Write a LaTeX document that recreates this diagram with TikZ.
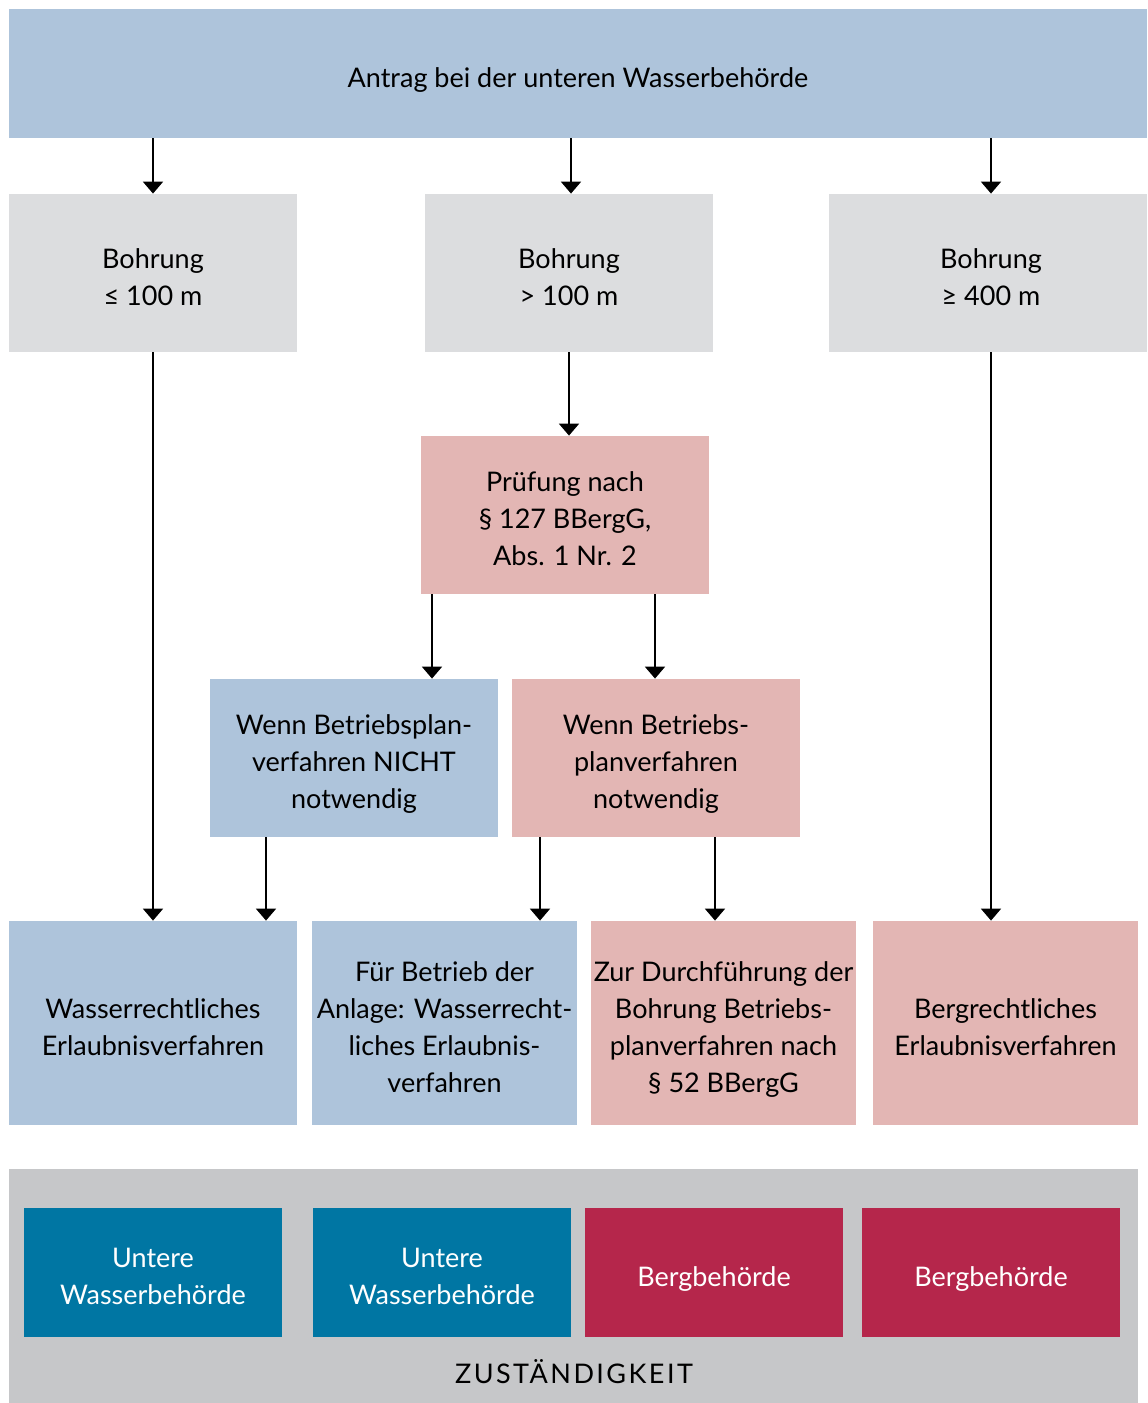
\documentclass[tikz,border=0pt]{standalone}
\usepackage{fontspec}
\setmainfont{Lato}
\usetikzlibrary{arrows.meta,calc}
\definecolor{lblue}{HTML}{AEC4DB}
\definecolor{lgray}{HTML}{DCDDDF}
\definecolor{lpink}{HTML}{E3B6B4}
\definecolor{pgray}{HTML}{C6C7C9}
\definecolor{teal}{HTML}{0076A3}
\definecolor{crim}{HTML}{B5264B}
\newcommand\txtA{\rule{0pt}{17pt}}
\newcommand\txtZ{\rule[-3.5pt]{0pt}{3.5pt}}
\tikzset{
  box/.style={draw=none, align=center, inner sep=0pt, font=\fontsize{13.5}{18.5}\selectfont, text=black,
    execute at begin node={\txtA}, execute at end node={\txtZ}},
  arr/.style={line width=1pt, -{Triangle[width=10pt,length=6pt]}},
}
\begin{document}
\begin{tikzpicture}[x=0.5pt,y=-0.5pt]
\useasboundingbox (0,0) rectangle (1147,1403);
% top
\node[box, fill=lblue, minimum width=569pt, minimum height=64.5pt] (top) at (578,73.5) {Antrag bei der unteren Wasserbehörde};
% gray row
\node[box, fill=lgray, minimum width=144pt, minimum height=79pt] (g1) at (153,273) {\txtA Bohrung\\ ≤ 100 m\txtZ};
\node[box, fill=lgray, minimum width=144pt, minimum height=79pt] (g2) at (569,273) {\txtA Bohrung\\ > 100 m\txtZ};
\node[box, fill=lgray, minimum width=159pt, minimum height=79pt] (g3) at (988,273) {\txtA\hspace*{3pt}Bohrung\\ \hspace*{3pt}≥ 400 m\txtZ};
% pruefung
\node[box, fill=lpink, minimum width=144pt, minimum height=79pt] (pr) at (565,515) {\txtA Prüfung nach\\ § 127 BBergG,\\ Abs. 1 Nr. 2\txtZ};
\node[box, fill=lblue, minimum width=144pt, minimum height=79pt] (ni) at (354,758) {\txtA Wenn Betriebsplan-\\ verfahren NICHT\\ notwendig\txtZ};
\node[box, fill=lpink, minimum width=144pt, minimum height=79pt] (nw) at (656,758) {\txtA Wenn Betriebs-\\ planverfahren\\ notwendig\txtZ};
% bottom row
\node[box, fill=lblue, minimum width=144pt, minimum height=102pt] (b1) at (153,1023) {\txtA Wasserrechtliches\\ Erlaubnisverfahren\txtZ};
\node[box, fill=lblue, minimum width=132.5pt, minimum height=102pt] (b2) at (444.5,1023) {\txtA Für Betrieb der\\ Anlage: Wasserrecht-\\ liches Erlaubnis-\\ verfahren\txtZ};
\node[box, fill=lpink, minimum width=132.5pt, minimum height=102pt] (b3) at (723.5,1023) {\txtA Zur Durchführung der\\ Bohrung Betriebs-\\ planverfahren nach\\ § 52 BBergG\txtZ};
\node[box, fill=lpink, minimum width=132.5pt, minimum height=102pt] (b4) at (1005.5,1023) {\txtA Bergrechtliches\\ Erlaubnisverfahren\txtZ};
% panel
\node[fill=pgray, draw=none, inner sep=0pt, minimum width=564.5pt, minimum height=117pt] (panel) at (573.5,1286) {};
\node[box, fill=teal, text=white, minimum width=129pt, minimum height=64.5pt] (z1) at (153,1272.5) {\txtA Untere\\ Wasserbehörde\txtZ};
\node[box, fill=teal, text=white, minimum width=129pt, minimum height=64.5pt] (z2) at (442,1272.5) {\txtA Untere\\ Wasserbehörde\txtZ};
\node[box, fill=crim, text=white, minimum width=129pt, minimum height=64.5pt] (z3) at (714,1272.5) {Bergbehörde};
\node[box, fill=crim, text=white, minimum width=129pt, minimum height=64.5pt] (z4) at (991,1272.5) {Bergbehörde};
\node[box] (zl) at (574,1369.5) {\addfontfeatures{LetterSpace=9}ZUSTÄNDIGKEIT};
% coordinates for arrow x positions
\coordinate (x153) at (153,0);
\coordinate (x571) at (571,0);
\coordinate (x991) at (991,0);
\coordinate (x569) at (569,0);
\coordinate (x432) at (432,0);
\coordinate (x655) at (655,0);
\coordinate (x266) at (266,0);
\coordinate (x540) at (540,0);
\coordinate (x715) at (715,0);
% arrows
\draw[arr] (top.south -| x153) -- (g1.north -| x153);
\draw[arr] (top.south -| x571) -- (g2.north -| x571);
\draw[arr] (top.south -| x991) -- (g3.north -| x991);
\draw[arr] (g2.south -| x569) -- (pr.north -| x569);
\draw[arr] (pr.south -| x432) -- (ni.north -| x432);
\draw[arr] (pr.south -| x655) -- (nw.north -| x655);
\draw[arr] (g1.south -| x153) -- (b1.north -| x153);
\draw[arr] (ni.south -| x266) -- (b1.north -| x266);
\draw[arr] (nw.south -| x540) -- (b2.north -| x540);
\draw[arr] (nw.south -| x715) -- (b3.north -| x715);
\draw[arr] (g3.south -| x991) -- (b4.north -| x991);
\end{tikzpicture}
\end{document}
